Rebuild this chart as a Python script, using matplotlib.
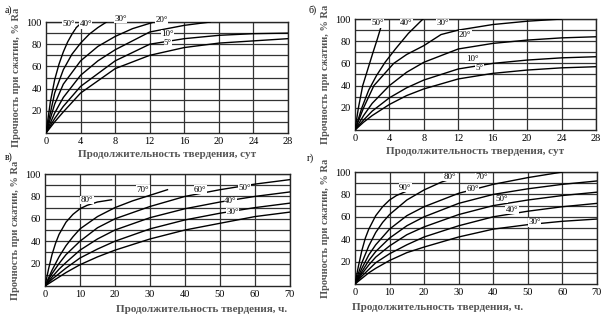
import matplotlib.pyplot as plt

#########################################################################################
# Curve data: strength (% of Ra) vs curing time, one list pair per temperature
#########################################################################################
# a) days
a_temps = ['50°', '40°', '30°', '20°', '10°', '5°']
a_x = [[0, 0.5, 1, 1.5, 2, 2.5, 3, 3.5, 4.2],
       [0, 1, 2, 3, 4, 5, 6, 7],
       [0, 1, 2, 4, 6, 8, 10, 12.5],
       [0, 1, 2, 4, 6, 8, 12, 16, 19],
       [0, 1, 2, 4, 8, 12, 16, 20, 24, 28],
       [0, 1, 2, 4, 8, 12, 16, 20, 24, 28]]
a_y = [[0, 28, 48, 62, 73, 82, 89, 95, 100],
       [0, 36, 57, 71, 81, 89, 95, 100],
       [0, 26, 44, 65, 78, 87, 94, 100],
       [0, 18, 32, 52, 65, 75, 91, 97, 100],
       [0, 13, 24, 42, 65, 80, 85, 88, 89.5, 90],
       [0, 10, 19, 36, 58, 70, 77, 81, 83, 85]]
a_lbl_x = [2.6, 4.6, 8.6, 13.4, 14.1, 14.1]
a_lbl_y = [98, 98, 103, 102, 89, 81]

# б) days
b_temps = ['50°', '40°', '30°', '20°', '10°', '5°']
b_x = [[0, 0.4, 0.9, 1.3, 1.7, 2.1, 2.6, 3.3],
       [0, 0.8, 1.6, 2.5, 3.5, 4.7, 6.2, 7.9],
       [0, 1, 2.2, 4.5, 6, 8, 10, 12, 16, 20, 24],
       [0, 1, 2, 4, 6, 8, 12, 16, 20, 24, 28],
       [0, 1, 2, 4, 6, 8, 12, 16, 20, 24, 28],
       [0, 1, 2, 4, 6, 8, 12, 16, 20, 24, 28]]
b_y = [[0, 20, 40, 50, 60, 70, 82, 100],
       [0, 20, 36, 49, 61, 73, 87, 100],
       [0, 20, 40, 60, 68, 76, 86, 90, 95, 98, 100],
       [0, 13, 24, 40, 52, 61, 73, 78, 81, 83, 84],
       [0, 9, 17, 29, 38, 45, 55, 60, 63, 65, 66],
       [0, 7, 13, 23, 31, 37, 46, 51, 54, 56, 57]]
b_lbl_x = [2.6, 6.0, 10.2, 12.8, 13.6, 14.5]
b_lbl_y = [96, 96, 96, 86, 64, 56]

# в) hours
v_temps = ['80°', '70°', '60°', '50°', '40°', '30°']
v_x = [[0, 1, 2, 3, 4, 6, 8, 10, 12, 15, 19],
       [0, 2, 4, 6, 8, 10, 15, 20, 25, 30, 35],
       [0, 2, 4, 6, 10, 15, 20, 30, 40, 50, 60, 70],
       [0, 2, 4, 6, 10, 15, 20, 30, 40, 50, 60, 70],
       [0, 2, 4, 6, 10, 15, 20, 30, 40, 50, 60, 70],
       [0, 2, 4, 6, 10, 15, 20, 30, 40, 50, 60, 70]]
v_y = [[0, 15, 28, 38, 46, 57, 64, 69, 72, 75, 77],
       [0, 14, 26, 36, 44, 51, 62, 70, 76, 81, 86],
       [0, 11, 20, 28, 40, 52, 60, 71, 80, 86, 91, 95],
       [0, 8, 15, 21, 32, 42, 50, 61, 69, 75, 80, 84],
       [0, 6, 11, 16, 25, 33, 40, 51, 59, 65, 70, 74],
       [0, 4, 8, 12, 19, 26, 32, 42, 50, 56, 62, 66]]
v_lbl_x = [12, 28, 44.4, 57, 53, 53.6]
v_lbl_y = [77, 86, 86, 87.5, 76, 66]

# г) hours
g_temps = ['90°', '80°', '70°', '60°', '50°', '40°', '30°']
g_x = [[0, 1, 2, 3, 4, 6, 8, 10, 12, 15],
       [0, 2, 4, 6, 8, 10, 15, 20, 25, 28],
       [0, 2, 4, 6, 10, 15, 20, 30, 40, 50, 60],
       [0, 2, 4, 6, 10, 15, 20, 30, 40, 50, 60, 70],
       [0, 2, 4, 6, 10, 15, 20, 30, 40, 50, 60, 70],
       [0, 2, 4, 6, 10, 15, 20, 30, 40, 50, 60, 70],
       [0, 2, 4, 6, 10, 15, 20, 30, 40, 50, 60, 70]]
g_y = [[0, 16, 30, 41, 49, 61, 69, 75, 79, 83],
       [0, 19, 34, 46, 55, 62, 75, 84, 91, 94],
       [0, 14, 26, 35, 49, 61, 69, 81, 89, 95, 100],
       [0, 11, 21, 29, 41, 52, 60, 72, 80, 85, 89, 92],
       [0, 9, 17, 24, 34, 44, 51, 62, 70, 75, 79, 82],
       [0, 7, 13, 19, 27, 35, 42, 52, 60, 65, 69, 72],
       [0, 5, 10, 14, 21, 28, 33, 42, 49, 53, 56, 58]]
g_lbl_x = [14.5, 27.5, 36.7, 34, 42.5, 45.4, 52]
g_lbl_y = [86, 95.5, 95.5, 85, 76, 66, 55]

x_ticks_days = [0, 4, 8, 12, 16, 20, 24, 28]
x_ticks_hours = [0, 10, 20, 30, 40, 50, 60, 70]
y_ticks = [20, 40, 60, 80, 100]
#########################################################################################

plt.rcParams['font.family'] = ['Liberation Serif', 'DejaVu Serif']
text_grey = '#555555'
y_title = 'Прочность при сжатии, % Ra'


def draw_panel(ax, xs, ys, temps, lbl_x, lbl_y, xmax, xticks):
    # 10 % horizontal grid and one vertical line per tick
    for v in range(10, 101, 10):
        ax.axhline(v, color='0.2', lw=0.9, zorder=1)
    for t in xticks[1:]:
        ax.axvline(t, color='0.2', lw=0.9, zorder=1)
    for x, y in zip(xs, ys):
        ax.plot(x, y, color='black', lw=1.0, zorder=3)
    for t, lx, ly in zip(temps, lbl_x, lbl_y):
        ax.text(lx, ly, t, fontsize=6.5, ha='center', va='center', zorder=4,
                bbox=dict(fc='white', ec='none', pad=0.2))
    ax.set_xlim(0, xmax)
    ax.set_ylim(0, 100)
    ax.set_xticks(xticks)
    ax.set_yticks(y_ticks)
    ax.tick_params(length=0, labelsize=7.5, pad=3)
    for s in ax.spines.values():
        s.set_color('0.15')
        s.set_linewidth(1.0)
    ax.set_ylabel(y_title, fontsize=7.5, fontweight='bold', color=text_grey)


fig = plt.figure(figsize=(6.04, 3.34), dpi=100)
ax_a = fig.add_axes([0.0762, 0.6018, 0.4007, 0.3323])
ax_b = fig.add_axes([0.5877, 0.6108, 0.3990, 0.3323])
ax_v = fig.add_axes([0.0745, 0.1437, 0.4056, 0.3353])
ax_g = fig.add_axes([0.5877, 0.1497, 0.4007, 0.3353])

draw_panel(ax_a, a_x, a_y, a_temps, a_lbl_x, a_lbl_y, 28, x_ticks_days)
draw_panel(ax_b, b_x, b_y, b_temps, b_lbl_x, b_lbl_y, 28, x_ticks_days)
draw_panel(ax_v, v_x, v_y, v_temps, v_lbl_x, v_lbl_y, 70, x_ticks_hours)
draw_panel(ax_g, g_x, g_y, g_temps, g_lbl_x, g_lbl_y, 70, x_ticks_hours)

for ax in (ax_a, ax_b):
    ax.set_xlabel('Продолжительность твердения, сут', fontsize=8,
                  fontweight='bold', color=text_grey, labelpad=3)
for ax in (ax_v, ax_g):
    ax.set_xlabel('Продолжительность твердения, ч.', fontsize=8,
                  fontweight='bold', color=text_grey, labelpad=5)
ax_v.xaxis.set_label_coords(0.64, -0.17)
ax_g.xaxis.set_label_coords(0.34, -0.17)

fig.text(0.008, 0.985, 'а)', fontsize=7, va='top')
fig.text(0.51, 0.985, 'б)', fontsize=7, va='top')
fig.text(0.008, 0.545, 'в)', fontsize=7, va='top')
fig.text(0.508, 0.54, 'г)', fontsize=7, va='top')

fig.savefig('out.png', dpi=100)
